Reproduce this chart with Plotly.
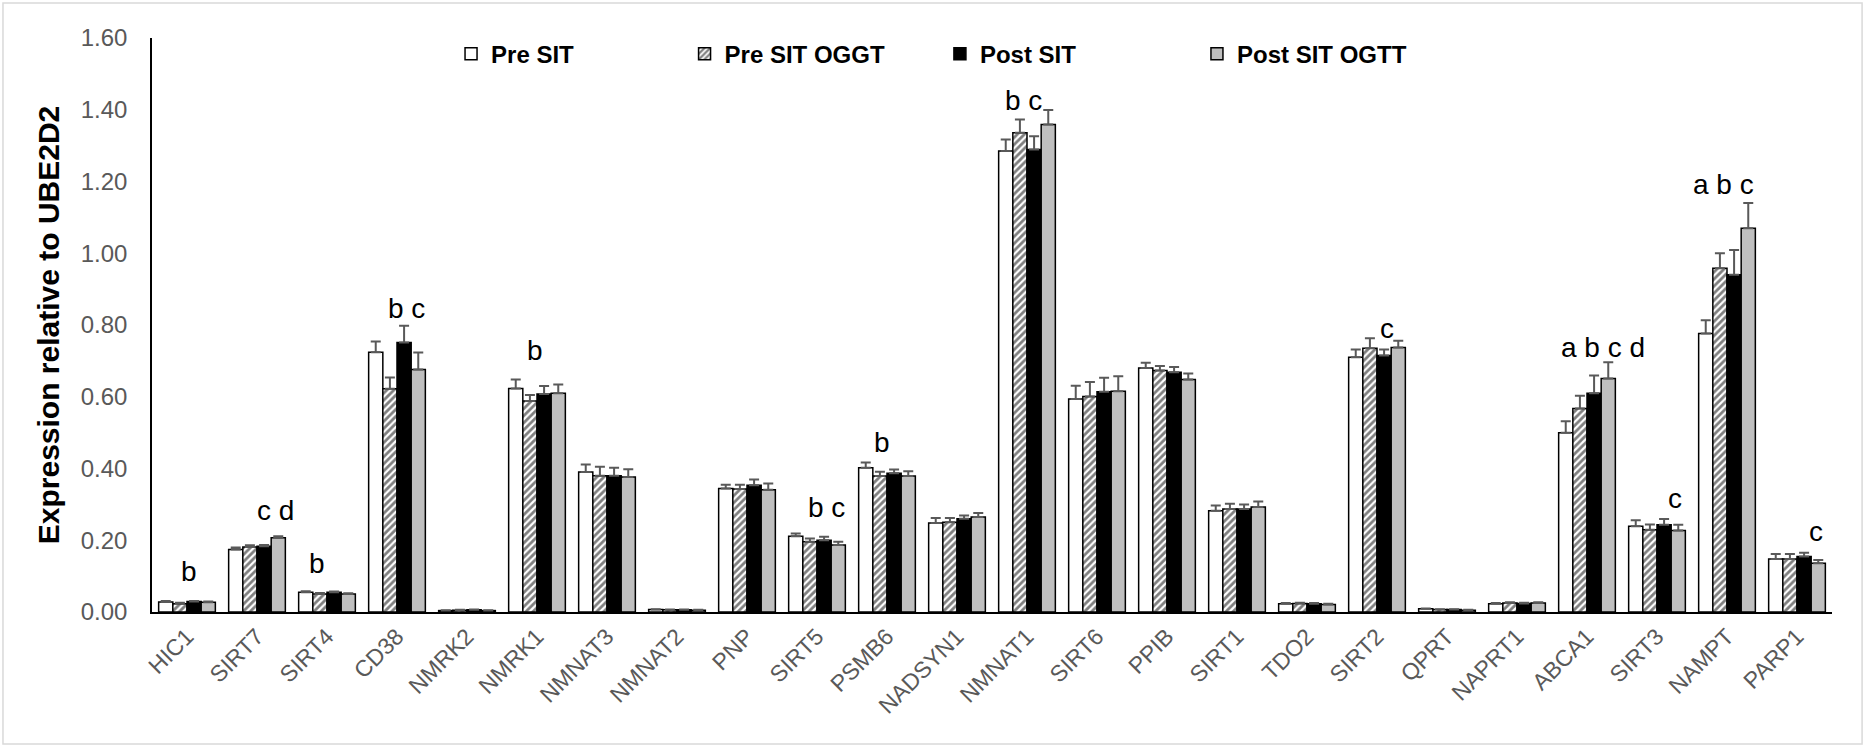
import plotly.graph_objects as go

genes = ["HIC1", "SIRT7", "SIRT4", "CD38", "NMRK2", "NMRK1", "NMNAT3", "NMNAT2", "PNP", "SIRT5",
         "PSMB6", "NADSYN1", "NMNAT1", "SIRT6", "PPIB", "SIRT1", "TDO2", "SIRT2", "QPRT", "NAPRT1",
         "ABCA1", "SIRT3", "NAMPT", "PARP1"]

pre_sit = [0.028, 0.174, 0.055, 0.724, 0.004, 0.623, 0.390, 0.007, 0.344, 0.211, 0.402, 0.248,
           1.285, 0.594, 0.680, 0.282, 0.023, 0.710, 0.009, 0.023, 0.500, 0.239, 0.776, 0.148]
pre_sit_err = [0.003, 0.006, 0.003, 0.030, 0.001, 0.025, 0.021, 0.001, 0.011, 0.008, 0.015, 0.014,
               0.032, 0.037, 0.015, 0.015, 0.002, 0.022, 0.001, 0.002, 0.032, 0.017, 0.037, 0.014]

pre_sit_oggt = [0.023, 0.181, 0.050, 0.622, 0.005, 0.588, 0.380, 0.006, 0.343, 0.196, 0.379, 0.250,
                1.336, 0.601, 0.673, 0.287, 0.024, 0.735, 0.007, 0.025, 0.567, 0.229, 0.958, 0.148]
pre_sit_oggt_err = [0.003, 0.005, 0.003, 0.032, 0.001, 0.017, 0.025, 0.001, 0.012, 0.009, 0.012, 0.012,
                    0.037, 0.040, 0.013, 0.015, 0.002, 0.028, 0.001, 0.002, 0.036, 0.015, 0.042, 0.014]

post_sit = [0.029, 0.183, 0.055, 0.751, 0.006, 0.608, 0.380, 0.006, 0.353, 0.200, 0.387, 0.260,
            1.289, 0.614, 0.668, 0.287, 0.023, 0.715, 0.007, 0.024, 0.610, 0.243, 0.940, 0.155]
post_sit_err = [0.002, 0.004, 0.002, 0.047, 0.001, 0.022, 0.022, 0.001, 0.016, 0.010, 0.010, 0.009,
                0.037, 0.039, 0.015, 0.013, 0.002, 0.017, 0.001, 0.002, 0.049, 0.016, 0.069, 0.010]

post_sit_ogtt = [0.027, 0.207, 0.050, 0.676, 0.004, 0.610, 0.376, 0.005, 0.341, 0.187, 0.379, 0.265,
                 1.359, 0.615, 0.648, 0.293, 0.021, 0.737, 0.005, 0.025, 0.651, 0.227, 1.070, 0.136]
post_sit_ogtt_err = [0.002, 0.004, 0.002, 0.047, 0.001, 0.024, 0.022, 0.001, 0.017, 0.009, 0.013, 0.011,
                     0.040, 0.042, 0.017, 0.015, 0.002, 0.019, 0.001, 0.002, 0.045, 0.016, 0.070, 0.009]

series_names = ["Pre SIT", "Pre SIT OGGT", "Post SIT", "Post SIT OGTT"]

# significance letters: gene, text, label height (axis units)
sig_genes = ["HIC1", "SIRT7", "SIRT4", "CD38", "NMRK1", "SIRT5", "PSMB6", "NMNAT1", "SIRT2",
             "ABCA1", "SIRT3", "NAMPT", "PARP1"]
sig_text = ["b", "c d", "b", "b c", "b", "b c", "b", "b c", "c", "a b c d", "c", "a b c", "c"]
sig_y = [0.112, 0.284, 0.135, 0.847, 0.730, 0.291, 0.473, 1.427, 0.789, 0.738, 0.315, 1.192, 0.225]
sig_shift = [2, 18, -10, 9, -2, 9, -5, -4, 10, 16, 18, -4, 19]

FONT = "Arial, 'Liberation Sans', sans-serif"
GRAY_TXT = "#595959"

fig = go.Figure()

styles = [
    dict(color="white", pattern=None),
    dict(color="white", pattern=dict(shape="/", fgcolor="black", bgcolor="white", size=5, solidity=0.55)),
    dict(color="black", pattern=None),
    dict(color="#BFBFBF", pattern=None),
]
vals = [pre_sit, pre_sit_oggt, post_sit, post_sit_ogtt]
errs = [pre_sit_err, pre_sit_oggt_err, post_sit_err, post_sit_ogtt_err]
legends = ["legend", "legend2", "legend3", "legend4"]

for name, v, e, st, lg in zip(series_names, vals, errs, styles, legends):
    marker = dict(color=st["color"], line=dict(color="black", width=1.5))
    if st["pattern"] is not None:
        marker["pattern"] = st["pattern"]
    fig.add_trace(go.Bar(
        name=name, x=genes, y=v, marker=marker, legend=lg,
        error_y=dict(type="data", array=e, arrayminus=[0] * len(e), symmetric=False,
                     color="#595959", thickness=2, width=5),
    ))

for g, t, yv, sh in zip(sig_genes, sig_text, sig_y, sig_shift):
    fig.add_annotation(x=g, y=yv, text=t, showarrow=False, xshift=sh,
                       font=dict(family=FONT, size=28, color="black"))

leg_x = [0.178, 0.317, 0.469, 0.622]
leg_common = dict(orientation="h", y=0.972, yanchor="middle", xanchor="left",
                  font=dict(family=FONT, size=24, color="black", weight="bold"),
                  bgcolor="rgba(0,0,0,0)", itemwidth=30)
layout_legends = {}
for i, lg in enumerate(legends):
    d = dict(leg_common)
    d["x"] = leg_x[i]
    layout_legends[lg] = d

fig.update_layout(
    width=1865, height=747,
    margin=dict(l=152, r=33, t=38, b=135),
    paper_bgcolor="white", plot_bgcolor="white",
    barmode="group", bargap=0.19, bargroupgap=0,
    font=dict(family=FONT),
    showlegend=True,
    **layout_legends,
)

fig.update_xaxes(showline=True, linecolor="black", linewidth=2, ticks="", showgrid=False,
                 tickangle=-45, tickfont=dict(family=FONT, size=23, color=GRAY_TXT),
                 automargin=False, tickson="labels")

fig.update_yaxes(range=[0, 1.6], tickvals=[0, 0.2, 0.4, 0.6, 0.8, 1.0, 1.2, 1.4, 1.6],
                 tickformat=".2f", showline=True, linecolor="black", linewidth=1.5,
                 ticks="", showgrid=False, zeroline=False, automargin=False,
                 tickfont=dict(family=FONT, size=24, color=GRAY_TXT), ticklabelstandoff=18,
                 title=dict(text="Expression relative to UBE2D2", standoff=12,
                            font=dict(family=FONT, size=30, color="black", weight="bold")))

fig.add_shape(type="rect", xref="paper", yref="paper", x0=-0.0887, x1=1.0179, y0=-0.23, y1=1.061,
              line=dict(color="#D9D9D9", width=1.5), fillcolor="rgba(0,0,0,0)", layer="below")

fig.write_html("out.html")
